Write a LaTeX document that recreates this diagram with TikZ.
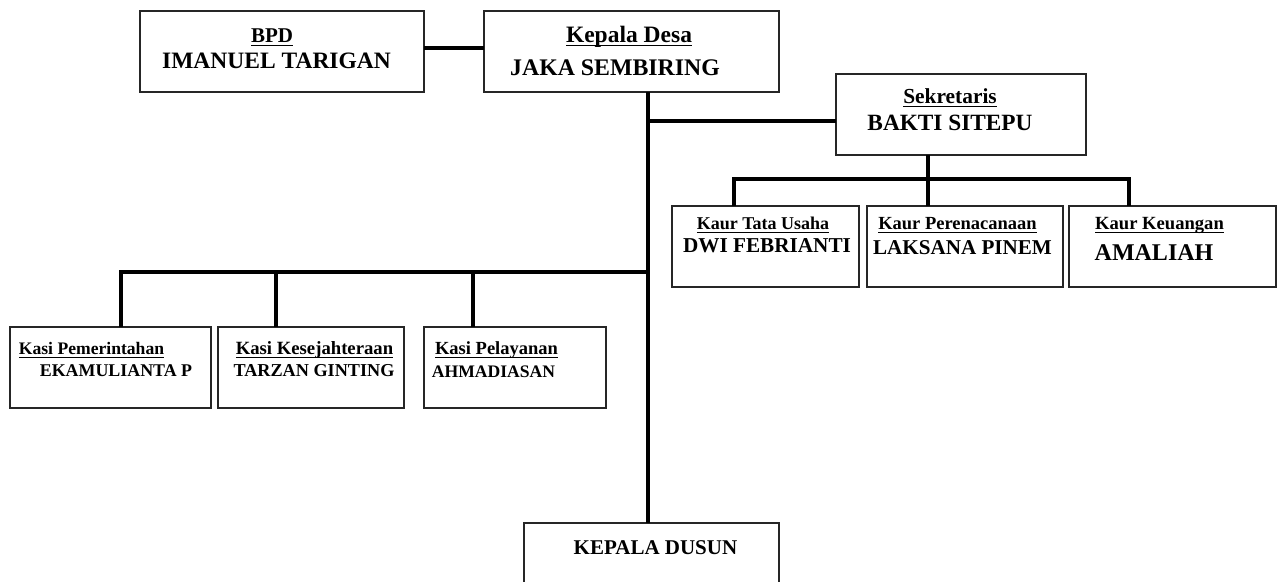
\documentclass[tikz,border=0pt]{standalone}
\usepackage{fontspec}
\setmainfont{Liberation Serif}
\newcommand{\myfs}[1]{\fontsize{#1}{#1}\selectfont\bfseries}
\newcommand{\myul}[1]{\setbox0=\hbox{#1}\rlap{\vrule height -2.6pt depth 4pt width \wd0}\box0}
\begin{document}
\begin{tikzpicture}[x=1pt,y=-1pt,
  box/.style={draw=black!85, line width=1.1pt, fill=white, anchor=north west, inner sep=0pt, outer sep=0pt},
  conn/.style={line width=3.6pt, line join=miter},
  txt/.style={anchor=base, inner sep=0pt, outer sep=0pt}]
\useasboundingbox (0,0) rectangle (1279,581);
\clip (0,0) rectangle (1279,581);

% boxes
\node[box, minimum width=284pt, minimum height=81pt] (bpd) at (140,11) {};
\node[box, minimum width=295pt, minimum height=81pt] (kades) at (484,11) {};
\node[box, minimum width=250pt, minimum height=81pt] (sek) at (836,74) {};
\node[box, minimum width=187pt, minimum height=81pt] (kaur1) at (672,206) {};
\node[box, minimum width=196pt, minimum height=81pt] (kaur2) at (867,206) {};
\node[box, minimum width=207pt, minimum height=81pt] (kaur3) at (1069,206) {};
\node[box, minimum width=201pt, minimum height=81pt] (kasi1) at (10,327) {};
\node[box, minimum width=186pt, minimum height=81pt] (kasi2) at (218,327) {};
\node[box, minimum width=182pt, minimum height=81pt] (kasi3) at (424,327) {};
\node[box, minimum width=255pt, minimum height=80pt] (kadus) at (524,523) {};

% connector points
\coordinate (tr) at (648,92);
\coordinate (js) at (648,121);
\coordinate (sd) at (928,179);
\coordinate (ka1) at (734,179);
\coordinate (ka3) at (1129,179);
\coordinate (kb1) at (121,272);
\coordinate (kb2) at (276,272);
\coordinate (kb3) at (473,272);
\coordinate (kbt) at (648,272);

% connectors
\draw[conn] ([yshift=3.5pt]bpd.east) -- ([yshift=3.5pt]kades.west);
\draw[conn] (tr) -- (tr |- kadus.north);
\draw[conn] (js) -- (js -| sek.west);
\draw[conn] (sd |- sek.south) -- (sd |- kaur2.north);
\draw[conn] (ka1 |- kaur1.north) -- (ka1) -- (ka3) -- (ka3 |- kaur3.north);
\draw[conn] (kb1 |- kasi1.north) -- (kb1) -- (kbt);
\draw[conn] (kb2) -- (kb2 |- kasi2.north);
\draw[conn] (kb3) -- (kb3 |- kasi3.north);

% texts
\node[txt, font=\myfs{21}] (t1) at (272,42) {\myul{BPD}};
\node[txt, font=\myfs{23.5}] (t2) at (276.5,68) {IMANUEL TARIGAN};
\node[txt, font=\myfs{23.5}] (t3) at (629,42) {\myul{Kepala Desa}};
\node[txt, font=\myfs{23.8}] (t4) at (615,75) {JAKA SEMBIRING};
\node[txt, font=\myfs{21.4}] (t5) at (950,103) {\myul{Sekretaris}};
\node[txt, font=\myfs{23.3}] (t6) at (950,130) {BAKTI SITEPU};
\node[txt, font=\myfs{18}] (t7) at (763,229) {\myul{Kaur Tata Usaha}};
\node[txt, font=\myfs{21.2}] (t8) at (767,252) {DWI FEBRIANTI};
\node[txt, font=\myfs{18.5}] (t9) at (957.5,229) {\myul{Kaur Perenacanaan}};
\node[txt, font=\myfs{21.1}] (t10) at (962.5,254) {LAKSANA PINEM};
\node[txt, font=\myfs{18.6}] (t11) at (1159.5,229) {\myul{Kaur Keuangan}};
\node[txt, font=\myfs{24}] (t12) at (1154,260) {AMALIAH};
\node[txt, font=\myfs{17.6}] (t13) at (91.5,354) {\myul{Kasi Pemerintahan}};
\node[txt, font=\myfs{17.9}] (t14) at (116,376) {EKAMULIANTA P};
\node[txt, font=\myfs{18.7}] (t15) at (314.5,354) {\myul{Kasi Kesejahteraan}};
\node[txt, font=\myfs{18.2}] (t16) at (314,376) {TARZAN GINTING};
\node[txt, font=\myfs{18.5}] (t17) at (496.5,354) {\myul{Kasi Pelayanan}};
\node[txt, font=\myfs{17.6}] (t18) at (493.5,377) {AHMADIASAN};
\node[txt, font=\myfs{21}] (t19) at (655.5,554) {KEPALA DUSUN};
\end{tikzpicture}
\end{document}
